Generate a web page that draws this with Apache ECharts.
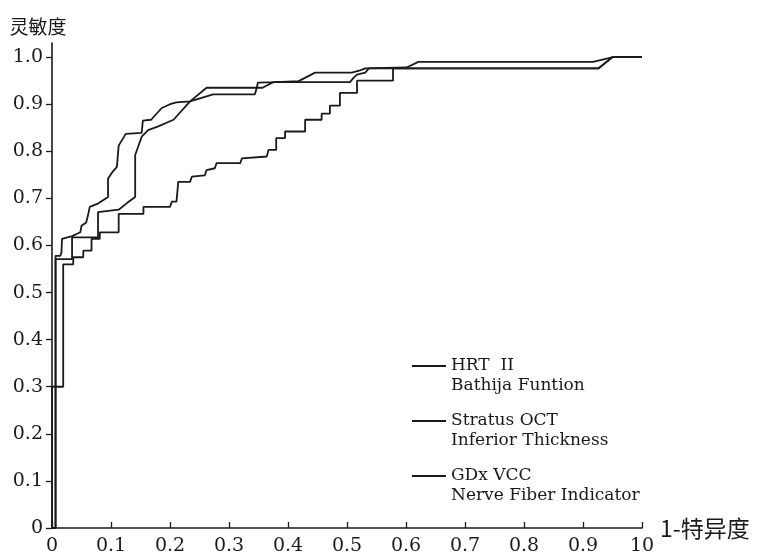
<!DOCTYPE html>
<html>
<head>
<meta charset="utf-8">
<script src="https://cdn.jsdelivr.net/npm/echarts@6/dist/echarts.min.js"></script>
<style>
  html, body { margin: 0; padding: 0; background: #fff; }
  #chart { width: 757px; height: 556px; }
</style>
</head>
<body>
<div id="chart"></div>
<script>
// ---- data (1-specificity, sensitivity) ----
const seriesNames = ['HRT  II\nBathija Funtion', 'Stratus OCT\nInferior Thickness', 'GDx VCC\nNerve Fiber Indicator'];

const hrtCurve = [
  [0,0],[0.006,0],[0.006,0.578],[0.014,0.578],[0.016,0.585],[0.017,0.614],[0.034,0.62],[0.048,0.628],
  [0.05,0.642],[0.058,0.649],[0.061,0.664],[0.064,0.682],[0.078,0.689],[0.095,0.703],[0.095,0.742],
  [0.103,0.757],[0.11,0.767],[0.113,0.812],[0.125,0.837],[0.152,0.839],[0.154,0.865],[0.168,0.867],
  [0.186,0.892],[0.2,0.9],[0.211,0.904],[0.234,0.906],[0.273,0.921],[0.344,0.921],[0.347,0.935],
  [0.357,0.935],[0.375,0.947],[0.505,0.947],[0.511,0.956],[0.517,0.963],[0.531,0.967],[0.537,0.976],
  [0.926,0.976],[0.95,1.0],[1.0,1.0]
];

const octCurve = [
  [0,0],[0.006,0],[0.006,0.571],[0.034,0.571],[0.034,0.617],[0.078,0.617],[0.078,0.671],[0.113,0.676],
  [0.127,0.69],[0.141,0.703],[0.141,0.792],[0.152,0.831],[0.163,0.845],[0.18,0.853],[0.206,0.867],
  [0.234,0.906],[0.262,0.935],[0.347,0.935],[0.349,0.946],[0.378,0.947],[0.418,0.949],[0.446,0.967],
  [0.508,0.967],[0.522,0.972],[0.531,0.976],[0.601,0.978],[0.621,0.99],[0.917,0.99],[0.951,1.0],[1.0,1.0]
];

const gdxCurve = [
  [0,0],[0,0.3],[0.019,0.3],[0.019,0.56],[0.036,0.56],[0.036,0.575],[0.053,0.575],[0.053,0.589],
  [0.067,0.589],[0.067,0.614],[0.081,0.614],[0.081,0.628],[0.113,0.628],[0.113,0.667],[0.155,0.667],
  [0.155,0.682],[0.2,0.682],[0.203,0.693],[0.211,0.693],[0.214,0.735],[0.234,0.735],[0.237,0.746],
  [0.259,0.749],[0.262,0.76],[0.276,0.764],[0.279,0.775],[0.319,0.775],[0.322,0.785],[0.364,0.789],
  [0.367,0.803],[0.38,0.803],[0.38,0.828],[0.395,0.828],[0.395,0.842],[0.429,0.842],[0.429,0.867],
  [0.457,0.867],[0.457,0.88],[0.471,0.88],[0.471,0.897],[0.488,0.897],[0.488,0.924],[0.517,0.924],
  [0.517,0.95],[0.578,0.95],[0.578,0.976],[0.926,0.976],[0.95,1.0],[1.0,1.0]
];

const xTickValues = [0,0.1,0.2,0.3,0.4,0.5,0.6,0.7,0.8,0.9,1.0];
const xTickLabels = ['0','0.1','0.2','0.3','0.4','0.5','0.6','0.7','0.8','0.9','10'];
const yTickValues = [0,0.1,0.2,0.3,0.4,0.5,0.6,0.7,0.8,0.9,1.0];
const yTickLabels = ['0','0.1','0.2','0.3','0.4','0.5','0.6','0.7','0.8','0.9','1.0'];
const xAxisTitle = '1-特异度';
const yAxisTitle = '灵敏度';

// ---- chart ----
const ink = '#1a1a1a';
const serif = '"DejaVu Serif", "Liberation Serif", "Noto Sans CJK SC", serif';
const cjk = '"Noto Sans CJK SC", sans-serif';

const chart = echarts.init(document.getElementById('chart'), null, { renderer: 'canvas' });

const curves = [hrtCurve, octCurve, gdxCurve];
const series = curves.map((c, i) => ({
  name: seriesNames[i],
  type: 'line',
  data: c,
  symbol: 'none',
  showSymbol: false,
  smooth: false,
  animation: false,
  lineStyle: { color: ink, width: 1.8 },
  itemStyle: { color: ink },
  z: 3 - i
}));

const labelFor = (vals, labels) => v => {
  const idx = vals.findIndex(t => Math.abs(t - v) < 1e-6);
  return idx >= 0 ? labels[idx] : '';
};

chart.setOption({
  backgroundColor: '#ffffff',
  animation: false,
  grid: { left: 52, right: 115, top: 43, bottom: 27, containLabel: false },
  xAxis: {
    type: 'value', min: 0, max: 1, interval: 0.1,
    name: xAxisTitle, nameLocation: 'end', nameGap: 14,
    nameTextStyle: { fontFamily: cjk, fontSize: 23, color: ink, verticalAlign: 'middle', padding: [4, 0, 0, 0] },
    axisLine: { show: true, lineStyle: { color: ink, width: 1.6 } },
    axisTick: { show: true, inside: true, length: 6, lineStyle: { color: ink, width: 1.3 }, customValues: xTickValues },
    axisLabel: {
      show: true, margin: 9, fontFamily: serif, fontSize: 19, color: ink,
      customValues: xTickValues,
      formatter: labelFor(xTickValues, xTickLabels)
    },
    splitLine: { show: false }
  },
  yAxis: {
    type: 'value', min: 0, max: 1.03,
    name: yAxisTitle, nameLocation: 'end', nameGap: 7,
    nameTextStyle: { fontFamily: cjk, fontSize: 19, color: ink, align: 'center', padding: [0, 28, 0, 0] },
    axisLine: { show: true, lineStyle: { color: ink, width: 1.6 } },
    axisTick: { show: true, inside: false, length: 6, lineStyle: { color: ink, width: 1.3 }, customValues: yTickValues },
    axisLabel: {
      show: true, margin: 9, fontFamily: serif, fontSize: 19, color: ink,
      customValues: yTickValues,
      formatter: labelFor(yTickValues, yTickLabels)
    },
    splitLine: { show: false }
  },
  legend: {
    orient: 'vertical',
    left: 407, top: 351,
    itemWidth: 34, itemHeight: 40, itemGap: 15,
    icon: 'path://M0,9.1L34,9.1L34,10.9L0,10.9Z M0,0L0.01,0L0.01,0.01Z M0,40L0.01,40L0.01,39.99Z',
    selectedMode: false,
    textStyle: { fontFamily: serif, fontSize: 17, lineHeight: 20, color: ink },
    data: seriesNames
  },
  series: series
});
</script>
</body>
</html>
